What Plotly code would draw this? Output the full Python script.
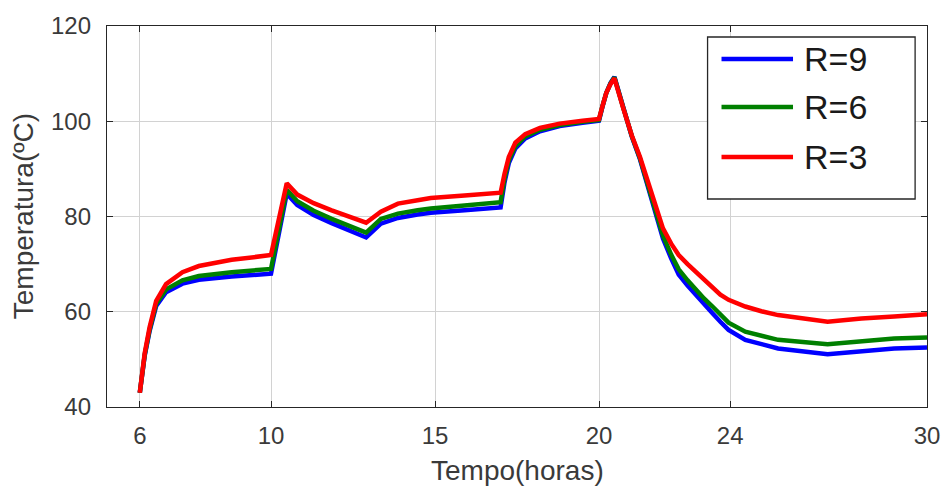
import plotly.graph_objects as go

# ---- data ----
hours = [6.0, 6.15, 6.3, 6.5, 6.8, 7.3, 7.8, 8.8, 10.0,
         10.48, 10.8, 11.3, 11.85, 12.4, 12.9,
         13.35, 13.87, 14.47, 14.87, 15.9, 16.9, 17.0,
         17.12, 17.25, 17.45, 17.75, 18.2, 18.8, 19.5, 20.0,
         20.1, 20.22, 20.35, 20.47,
         20.75, 21.0, 21.25, 21.5, 21.75, 21.95, 22.2, 22.43, 22.7, 22.95,
         23.2, 23.46, 23.7, 23.95,
         24.46, 24.95, 25.46, 26.97, 28.0, 29.0, 30.0]

temp_r9 = [43, 50.8, 56.0, 61.2, 64.1, 65.9, 66.7, 67.4, 68.0,
           84.8, 82.4, 80.3, 78.6, 77.0, 75.6,
           78.5, 79.7, 80.4, 80.8, 81.3, 81.8, 81.9,
           87.2, 91.2, 94.3, 96.4, 97.9, 99.0, 99.7, 100.1,
           102.9, 105.9, 108.0, 109.3,
           102.7, 96.8, 92.0, 86.0, 80.2, 75.4, 71.2, 67.8, 65.5, 63.5,
           61.5, 59.7, 57.9, 56.2,
           54.1, 53.1, 52.3, 51.1, 51.8, 52.3, 52.5]

temp_r6 = [43, 51.0, 56.3, 61.7, 64.7, 66.6, 67.5, 68.3, 69.0,
           85.6, 83.2, 81.2, 79.5, 78.0, 76.6,
           79.5, 80.6, 81.3, 81.7, 82.3, 82.9, 83.0,
           88.0, 91.8, 94.8, 96.8, 98.2, 99.2, 99.9, 100.3,
           103.0, 105.9, 107.9, 109.2,
           102.6, 96.9, 92.2, 86.5, 80.7, 76.0, 72.0, 68.9, 66.6, 64.6,
           62.8, 61.1, 59.3, 57.7,
           55.8, 54.9, 54.1, 53.2, 53.9, 54.4, 54.6]

temp_r3 = [43, 51.3, 56.8, 62.3, 65.8, 68.3, 69.6, 70.9, 71.9,
           87.0, 84.6, 82.8, 81.3, 79.9, 78.7,
           81.0, 82.7, 83.4, 83.9, 84.4, 84.9, 85.0,
           89.0, 92.5, 95.5, 97.3, 98.6, 99.5, 100.1, 100.5,
           103.0, 105.9, 107.8, 109.0,
           102.5, 97.0, 92.5, 87.3, 81.8, 77.5, 74.3, 71.9, 70.0, 68.4,
           66.6, 65.0, 63.6, 62.5,
           61.1, 60.1, 59.3, 57.9, 58.6, 59.0, 59.5]

series_names = ["R=9", "R=6", "R=3"]
series_values = [temp_r9, temp_r6, temp_r3]
series_colors = ["#0000FF", "#008000", "#FF0000"]

x_ticks = [6, 10, 15, 20, 24, 30]
y_ticks = [40, 60, 80, 100, 120]

FONT = "Liberation Sans, Arial, sans-serif"
AX = "#262626"
TXT = "#3a3a3a"

fig = go.Figure()
for name, vals, col in zip(series_names, series_values, series_colors):
    fig.add_trace(go.Scatter(x=hours, y=vals, mode="lines", name=name,
                             line=dict(color=col, width=4.5),
                             showlegend=False))

axis_common = dict(showgrid=True, gridcolor="#d2d2d2", gridwidth=1,
                   zeroline=False, showline=True, linecolor=AX, linewidth=1.3,
                   mirror="ticks", ticks="inside", ticklen=6, tickcolor=AX,
                   tickwidth=1.3,
                   tickfont=dict(family=FONT, size=24, color=TXT))

fig.update_xaxes(range=[5, 30], tickvals=x_ticks, ticklabelstandoff=7,
                 **axis_common)
fig.update_yaxes(range=[40, 120], tickvals=y_ticks, ticklabelstandoff=10,
                 **axis_common)

# axis titles
fig.add_annotation(text="Tempo(horas)", xref="paper", yref="paper",
                   x=0.501, y=-0.167, xanchor="center", yanchor="middle",
                   showarrow=False, font=dict(family=FONT, size=28, color=TXT))
fig.add_annotation(text="Temperatura(ºC)", xref="paper", yref="paper",
                   x=-0.1015, y=0.5, xanchor="center", yanchor="middle",
                   textangle=-90, showarrow=False,
                   font=dict(family=FONT, size=28, color=TXT))

# legend (drawn manually to match the boxed style)
fig.add_shape(type="rect", xref="paper", yref="paper",
              x0=0.7324, x1=0.9855, y0=0.5459, y1=0.9711,
              fillcolor="white", line=dict(color=AX, width=1.3), layer="above")
leg_rows = [0.9134, 0.7874, 0.6562]
for name, col, yy in zip(series_names, series_colors, leg_rows):
    fig.add_shape(type="line", xref="paper", yref="paper",
                  x0=0.7494, x1=0.8366, y0=yy, y1=yy,
                  line=dict(color=col, width=4.5), layer="above")
    fig.add_annotation(text=name, xref="paper", yref="paper",
                       x=0.8475, y=yy, xanchor="left", yanchor="middle",
                       showarrow=False,
                       font=dict(family=FONT, size=34, color="#1a1a1a"))

fig.update_layout(width=952, height=491,
                  margin=dict(l=107, r=19, t=26, b=84),
                  paper_bgcolor="white", plot_bgcolor="white")

fig.write_html("out.html")
